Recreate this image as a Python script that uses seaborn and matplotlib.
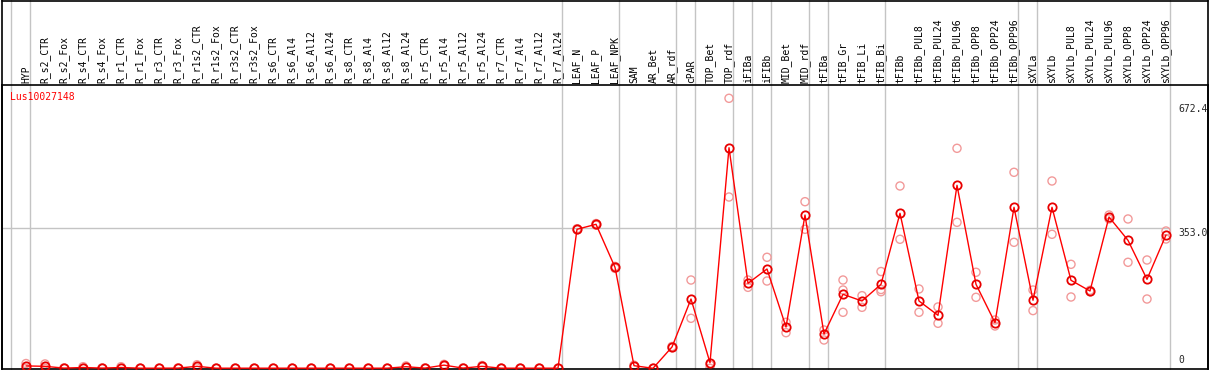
import numpy as np
import pandas as pd
import matplotlib
matplotlib.use("Agg")
import matplotlib.pyplot as plt
from matplotlib.lines import Line2D
import seaborn as sns

gene_id = "Lus10027148"

categories = [
    "HYP", "R_s2_CTR", "R_s2_Fox", "R_s4_CTR", "R_s4_Fox", "R_r1_CTR", "R_r1_Fox",
    "R_r3_CTR", "R_r3_Fox", "R_r1s2_CTR", "R_r1s2_Fox", "R_r3s2_CTR", "R_r3s2_Fox",
    "R_s6_CTR", "R_s6_Al4", "R_s6_Al12", "R_s6_Al24", "R_s8_CTR", "R_s8_Al4",
    "R_s8_Al12", "R_s8_Al24", "R_r5_CTR", "R_r5_Al4", "R_r5_Al12", "R_r5_Al24",
    "R_r7_CTR", "R_r7_Al4", "R_r7_Al12", "R_r7_Al24", "LEAF_N", "LEAF_P", "LEAF_NPK",
    "SAM", "AR_Bet", "AR_rdf", "cPAR", "TOP_Bet", "TOP_rdf", "iFIBa", "iFIBb",
    "MID_Bet", "MID_rdf", "tFIBa", "tFIB_Gr", "tFIB_Li", "tFIB_Bi", "tFIBb",
    "tFIBb_PUL8", "tFIBb_PUL24", "tFIBb_PUL96", "tFIBb_OPP8", "tFIBb_OPP24",
    "tFIBb_OPP96", "sXYLa", "sXYLb", "sXYLb_PUL8", "sXYLb_PUL24", "sXYLb_PUL96",
    "sXYLb_OPP8", "sXYLb_OPP24", "sXYLb_OPP96",
]

means = [
    6, 5, 0.5, 2, 0.5, 2, 0.3, 0.3, 0.5, 5, 0.3, 0.3, 0.3,
    0.3, 0.3, 0.3, 0.3, 0.3, 0.3, 0.3, 4, 0.5, 8, 0.5, 5,
    0.3, 0.3, 0.3, 0.3, 350.5, 363.1, 254.7,
    6.6, 0, 53.7, 174.7, 14.1, 556.2, 214.3, 250.4,
    104.1, 386.5, 86.5, 186.6, 169.7, 211.8, 390.8,
    169.7, 133.6, 461.4, 211.8, 115.0,
    406.0, 171.5, 406.0, 221.9, 194.9, 381.5,
    322.7, 224.4, 336.1,
]

rep_a = [
    12, 11, 1, 4, 1, 4, 0.5, 0.5, 1, 9, 0.5, 0.5, 0.5,
    0.5, 0.5, 0.5, 0.5, 0.5, 0.5, 0.5, 6, 1, 10, 1, 7,
    0.5, 0.5, 0.5, 0.5, 352, 365, 257,
    8, 0, 55, 222.6, 8.3, 680.8, 222.6, 279.9,
    116.0, 420.1, 96.6, 222.6, 183.1, 244.0, 459.7,
    200.0, 154.6, 554.7, 242.1, 121.8,
    494.2, 197.4, 472.3, 262.2, 196.7, 386.5,
    376.5, 273.1, 346.2,
]

rep_b = [
    0, 0, 0, 0, 0, 0, 0, 0, 0, 1, 0, 0, 0,
    0, 0, 0, 0, 0, 0, 0, 2, 0, 6, 0, 3,
    0, 0, 0, 0, 349, 361, 252,
    5, 0, 52, 126.1, 0, 431.9, 204.2, 220.1,
    89.8, 350.5, 71.4, 197.4, 153.8, 193.1, 325.3,
    141.2, 113.5, 368.1, 179.0, 106.7,
    317.7, 145.5, 337.9, 179.8, 193.1, 376.5,
    267.3, 174.7, 326.0,
]

rep_c = [np.nan] * len(categories)
rep_c[categories.index("tFIB_Gr")] = 141.2
rep_c[categories.index("tFIB_Bi")] = 198.6

group_ends = ["HYP", "R_r7_Al24", "LEAF_NPK", "AR_rdf", "cPAR", "TOP_rdf", "iFIBa",
              "iFIBb", "MID_rdf", "tFIBa", "tFIB_Bi", "tFIBb_OPP96", "sXYLa", "sXYLb_OPP96"]

grid_value = 353.0
axis_labels = ["672.4", "353.0", "0"]

# ---------------------------------------------------------------
W, H = 1209, 370
sns.set_style("white")
plt.rcParams["font.family"] = ["DejaVu Sans Mono", "DejaVu Sans"]

fig = plt.figure(figsize=(W / 100, H / 100), dpi=100)
# plot area in pixels: x 1.5 .. 1207.5, y 85 .. 369
ax = fig.add_axes([1.5 / W, 1 / H, 1206 / W, 284 / H])

idx = np.arange(len(categories))
df_mean = pd.DataFrame({"pos": idx, "value": means})
reps = pd.DataFrame({
    "pos": np.concatenate([idx, idx, idx]),
    "value": np.concatenate([rep_a, rep_b, rep_c]),
}).dropna()

red = "#FF0000"
pink = "#F29A9A"
grey = "#C4C4C4"

# x: pixel = 26 + 19*pos ; y: pixel = 368.3 - 0.3966*value
px_per_val = 0.3966
ax.set_xlim((1.5 - 26) / 19, (1207.5 - 26) / 19)
ax.set_ylim((368.3 - 369) / px_per_val, (368.3 - 85) / px_per_val)

# group separators, extending to the top of the figure
ext = (369 - 0) / 284
bounds = [-1] + [categories.index(g) for g in group_ends]
for b in bounds:
    ax.axvline(b + 0.2, ymin=0, ymax=ext, color=grey, lw=1.0, clip_on=False, zorder=1)

ax.hlines(grid_value, ax.get_xlim()[0], bounds[-1] + 0.2, color=grey, lw=1.0, zorder=1)

sns.scatterplot(data=reps, x="pos", y="value", ax=ax, marker="o", s=34,
                facecolors="none", edgecolor=pink, linewidth=1.0, zorder=2, legend=False)
sns.lineplot(data=df_mean, x="pos", y="value", ax=ax, color=red, lw=1.0,
             marker="o", markersize=6, markerfacecolor="none",
             markeredgecolor="#E80000", markeredgewidth=1.3, zorder=3, legend=False)

ax.set_xlabel("")
ax.set_ylabel("")
ax.set_yticks([])
ax.xaxis.tick_top()
ax.set_xticks(idx)
ax.set_xticklabels(categories, rotation=90, fontsize=7, color="black")
ax.tick_params(axis="x", length=0, pad=1.5)
for s in ax.spines.values():
    s.set_color("black")
    s.set_linewidth(1.2)

# right-hand value labels
xt = (1178 - 26) / 19
ax.annotate(axis_labels[0], (xt, float(axis_labels[0])), xytext=(0, -2),
            textcoords="offset points", ha="left", va="top", fontsize=7)
ax.annotate(axis_labels[1], (xt, float(axis_labels[1])), xytext=(0, 0),
            textcoords="offset points", ha="left", va="top", fontsize=7)
ax.annotate(axis_labels[2], (xt, float(axis_labels[2])), xytext=(0, 2.5),
            textcoords="offset points", ha="left", va="bottom", fontsize=7)

# gene id
ax.text(10 / W, 1 - 97.5 / H, gene_id, transform=fig.transFigure, ha="left", va="center",
        color=red, fontsize=7)

# outer frame (top/left/right of figure)
fig.add_artist(Line2D([1.5 / W, 1207.5 / W], [1 - 0.5 / H, 1 - 0.5 / H],
                      transform=fig.transFigure, color="black", lw=1.2))
fig.add_artist(Line2D([1.5 / W, 1.5 / W], [1 / H, 1], transform=fig.transFigure,
                      color="black", lw=1.2))
fig.add_artist(Line2D([1207.5 / W, 1207.5 / W], [1 / H, 1], transform=fig.transFigure,
                      color="black", lw=1.2))

fig.savefig("out.png", dpi=100, facecolor="white")
